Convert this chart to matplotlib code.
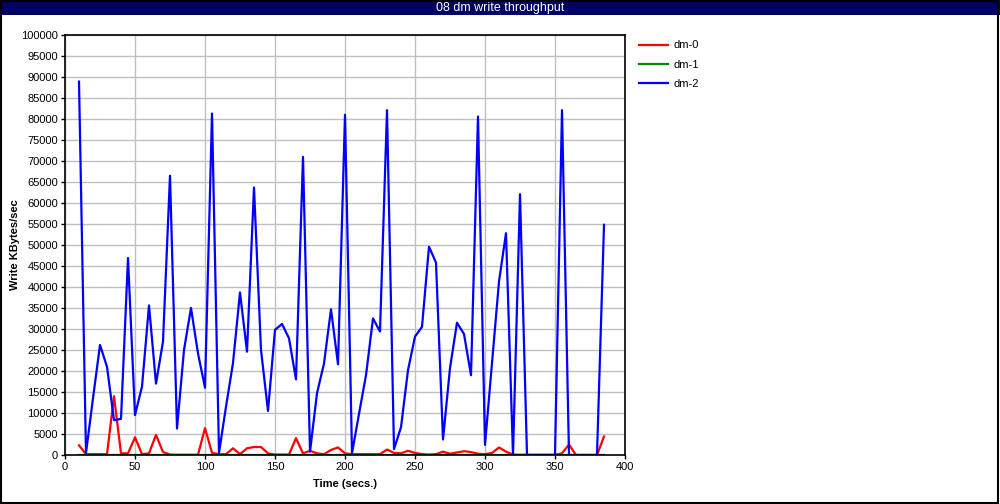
import matplotlib
matplotlib.use("Agg")
import matplotlib.pyplot as plt
from matplotlib.patches import Rectangle

plt.rcParams['font.family'] = ['Liberation Sans', 'DejaVu Sans']

time = list(range(10, 390, 5))

dm0 = [2300, 200, 200, 200, 200, 14000, 400, 400, 4200, 200,
       400, 4800, 700, 100, 50, 50, 50, 50, 6400, 500,
       200, 200, 1600, 200, 1600, 1900, 1900, 400, 100, 100,
       100, 4000, 400, 1000, 400, 200, 1200, 1800, 400, 200,
       200, 200, 200, 200, 1300, 500, 400, 1000, 500, 200,
       100, 200, 800, 300, 600, 900, 700, 300, 200, 500,
       1800, 800, 100, 50, 50, 50, 50, 50, 50, 400,
       2500, 0, 0, 0, 0, 4400]

dm1 = [0] * len(time)

dm2 = [88900, 500, 13500, 26200, 21000, 8300, 8600, 46900, 9500, 16300,
       35600, 17000, 27000, 66500, 6300, 25000, 35000, 24200, 16000, 81300,
       500, 11500, 21900, 38700, 24600, 63700, 25000, 10500, 29800, 31200,
       27800, 18000, 71000, 800, 14700, 21800, 34700, 21600, 81000, 400,
       9800, 19000, 32500, 29400, 82100, 1400, 6600, 20200, 28200, 30500,
       49600, 45800, 3700, 20700, 31500, 28800, 19000, 80600, 2400, 21900,
       41300, 52800, 0, 62100, 0, 0, 0, 0, 0, 82100,
       0, 0, 0, 0, 0, 54800]

series_names = ['dm-0', 'dm-1', 'dm-2']
series_colors = ['#ff0000', '#008800', '#0000ff']

W, H = 1000, 504
fig = plt.figure(figsize=(W / 100, H / 100), dpi=100)

# title bar and border
fig.patches.append(Rectangle((0, 1 - 15 / H), 1, 15 / H, transform=fig.transFigure,
                             facecolor='#000066', edgecolor='none', zorder=0))
fig.patches.append(Rectangle((0.5 / W, 1.5 / H), 1 - 2.5 / W, 1 - 2 / H, transform=fig.transFigure,
                             facecolor='none', edgecolor='black', linewidth=1.5, zorder=5))
fig.text(0.5, 1 - 8 / H, '08 dm write throughput', color='white', ha='center', va='center',
         fontsize=9)

ax = fig.add_axes([65 / W, 49 / H, 560 / W, 420 / H])
for name, vals, c in zip(series_names, [dm0, dm1, dm2], series_colors):
    ax.plot(time, vals, color=c, lw=1.6, label=name)

ax.set_xlim(0, 400)
ax.set_ylim(0, 100000)
ax.set_xticks(range(0, 401, 50))
ax.set_yticks(range(0, 100001, 5000))
ax.grid(True, color='#c0c0c0', lw=1)
ax.set_axisbelow(True)
ax.tick_params(labelsize=8, length=3, width=1, direction='out', pad=2)
for s in ax.spines.values():
    s.set_linewidth(1.2)
ax.set_xlabel('Time (secs.)', fontsize=8, fontweight='bold', labelpad=5)
ax.set_ylabel('Write KBytes/sec', fontsize=8, fontweight='bold', labelpad=1)

ax.legend(loc='upper left', bbox_to_anchor=(635 / W, 1 - 36 / H), bbox_transform=fig.transFigure,
          frameon=False, fontsize=8, handlelength=2.6, handletextpad=0.45, labelspacing=0.85,
          borderaxespad=0)

fig.savefig('out.png', dpi=100)
